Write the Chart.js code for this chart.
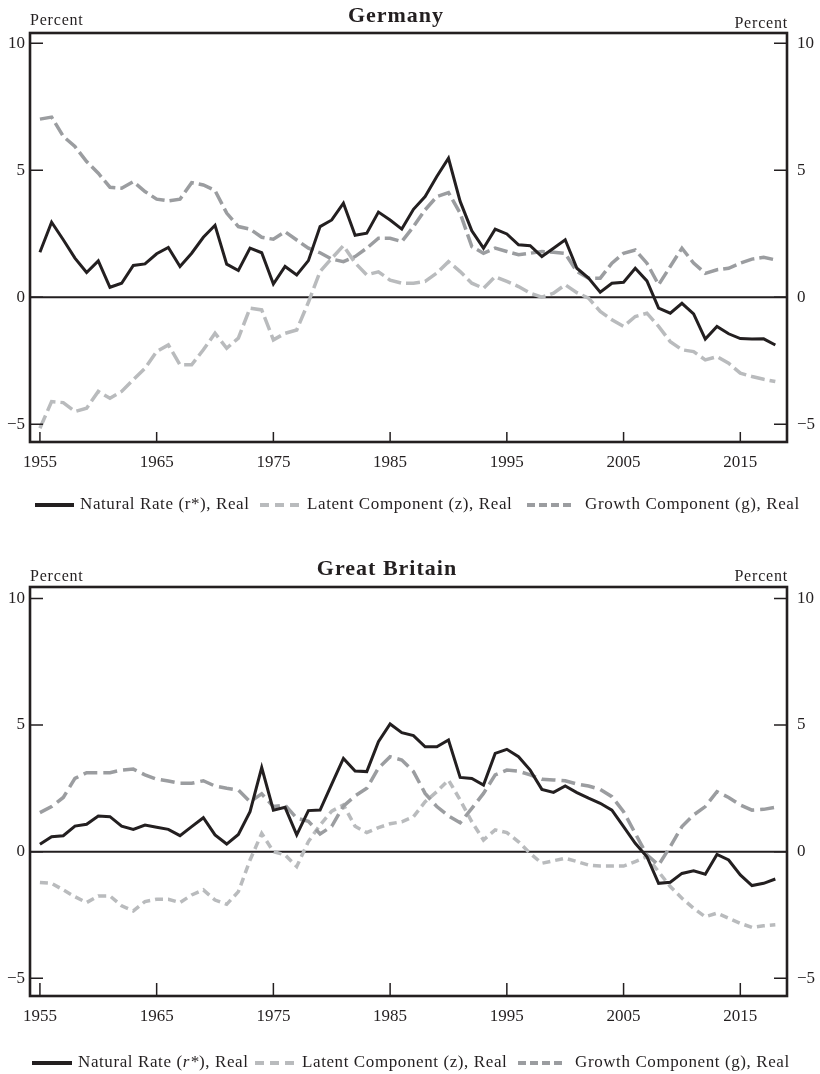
<!DOCTYPE html>
<html>
<head>
<meta charset="utf-8">
<title>Natural rate of interest: Germany and Great Britain</title>
<script src="https://cdn.jsdelivr.net/npm/chart.js@4.4.1/dist/chart.umd.min.js"></script>
<style>
  html, body { margin: 0; padding: 0; background: #fff; }
  .panel { position: absolute; left: 0; width: 820px; }
  #germany-box { top: 0; height: 530px; }
  #britain-box { top: 554px; height: 520px; }
</style>
</head>
<body>
<div class="panel" id="germany-box"><canvas id="germany-chart"></canvas></div>
<div class="panel" id="britain-box"><canvas id="britain-chart"></canvas></div>
<script>
// Years on the x axis
const years = [1955, 1956, 1957, 1958, 1959, 1960, 1961, 1962, 1963, 1964,
    1965, 1966, 1967, 1968, 1969, 1970, 1971, 1972, 1973, 1974,
    1975, 1976, 1977, 1978, 1979, 1980, 1981, 1982, 1983, 1984,
    1985, 1986, 1987, 1988, 1989, 1990, 1991, 1992, 1993, 1994,
    1995, 1996, 1997, 1998, 1999, 2000, 2001, 2002, 2003, 2004,
    2005, 2006, 2007, 2008, 2009, 2010, 2011, 2012, 2013, 2014,
    2015, 2016, 2017, 2018];
const xTickYears = [1955, 1965, 1975, 1985, 1995, 2005, 2015];
const yTickValues = [-5, 0, 5, 10];

// Germany (percent)
const deNatural = [1.77, 2.95, 2.26, 1.54, 0.97, 1.43, 0.39, 0.55, 1.25, 1.31,
    1.71, 1.96, 1.21, 1.73, 2.36, 2.83, 1.30, 1.05, 1.93, 1.75,
    0.52, 1.21, 0.88, 1.44, 2.78, 3.04, 3.70, 2.44, 2.52, 3.35,
    3.04, 2.68, 3.46, 3.96, 4.75, 5.47, 3.77, 2.61, 1.93, 2.68,
    2.49, 2.06, 2.03, 1.60, 1.93, 2.26, 1.14, 0.75, 0.20, 0.55,
    0.59, 1.14, 0.64, -0.43, -0.63, -0.24, -0.66, -1.65, -1.15, -1.44,
    -1.63, -1.65, -1.64, -1.88];
const deLatent = [-5.16, -4.11, -4.15, -4.50, -4.37, -3.71, -3.98, -3.71, -3.25, -2.80,
    -2.14, -1.88, -2.66, -2.66, -2.07, -1.42, -2.01, -1.61, -0.43, -0.50,
    -1.68, -1.42, -1.29, -0.20, 1.01, 1.53, 2.03, 1.35, 0.88, 1.00,
    0.67, 0.55, 0.55, 0.62, 0.95, 1.40, 1.01, 0.55, 0.35, 0.81,
    0.62, 0.42, 0.16, 0.00, 0.16, 0.49, 0.18, -0.04, -0.56, -0.89,
    -1.15, -0.76, -0.63, -1.15, -1.75, -2.07, -2.14, -2.47, -2.34, -2.60,
    -2.99, -3.12, -3.23, -3.32];
const deGrowth = [7.01, 7.09, 6.33, 5.93, 5.34, 4.88, 4.33, 4.29, 4.55, 4.16,
    3.86, 3.79, 3.86, 4.51, 4.42, 4.20, 3.31, 2.78, 2.68, 2.36,
    2.28, 2.58, 2.25, 1.93, 1.75, 1.50, 1.40, 1.60, 1.93, 2.32,
    2.32, 2.19, 2.78, 3.44, 3.96, 4.12, 3.31, 1.99, 1.73, 1.93,
    1.80, 1.67, 1.73, 1.80, 1.77, 1.72, 1.01, 0.75, 0.75, 1.34,
    1.73, 1.86, 1.34, 0.49, 1.21, 1.93, 1.34, 0.94, 1.08, 1.14,
    1.34, 1.50, 1.57, 1.47];

// Great Britain (percent)
const gbNatural = [0.29, 0.59, 0.63, 1.01, 1.08, 1.41, 1.38, 1.01, 0.88, 1.05,
    0.96, 0.88, 0.63, 0.99, 1.34, 0.66, 0.30, 0.68, 1.58, 3.32,
    1.64, 1.75, 0.66, 1.62, 1.64, 2.67, 3.68, 3.18, 3.16, 4.34,
    5.04, 4.70, 4.58, 4.14, 4.14, 4.41, 2.93, 2.89, 2.63, 3.88,
    4.04, 3.75, 3.22, 2.46, 2.34, 2.59, 2.33, 2.11, 1.91, 1.64,
    0.99, 0.33, -0.20, -1.25, -1.21, -0.86, -0.76, -0.89, -0.11, -0.33,
    -0.92, -1.34, -1.25, -1.08];
const gbLatent = [-1.22, -1.25, -1.51, -1.78, -2.01, -1.75, -1.75, -2.14, -2.34, -1.97,
    -1.88, -1.88, -2.01, -1.71, -1.51, -1.91, -2.08, -1.58, -0.33, 0.72,
    0.00, -0.13, -0.59, 0.40, 1.05, 1.60, 1.85, 1.00, 0.75, 0.95,
    1.10, 1.18, 1.38, 1.97, 2.37, 2.83, 2.04, 1.18, 0.46, 0.86,
    0.75, 0.39, -0.07, -0.46, -0.36, -0.26, -0.39, -0.53, -0.57, -0.57,
    -0.57, -0.39, -0.20, -0.79, -1.38, -1.84, -2.24, -2.57, -2.43, -2.63,
    -2.83, -2.99, -2.93, -2.89];
const gbGrowth = [1.54, 1.78, 2.14, 2.89, 3.12, 3.12, 3.12, 3.22, 3.26, 3.03,
    2.86, 2.79, 2.70, 2.70, 2.80, 2.59, 2.50, 2.43, 1.97, 2.28,
    1.78, 1.84, 1.32, 1.20, 0.70, 1.00, 1.80, 2.20, 2.50, 3.30,
    3.75, 3.62, 3.16, 2.30, 1.78, 1.41, 1.14, 1.71, 2.30, 3.03,
    3.22, 3.18, 3.03, 2.86, 2.83, 2.80, 2.67, 2.59, 2.46, 2.17,
    1.58, 0.72, -0.13, -0.53, 0.20, 0.99, 1.45, 1.78, 2.37, 2.14,
    1.84, 1.64, 1.67, 1.75];

const INK = '#231f20';
const GROWTH_GREY = '#9b9da0';
const LATENT_GREY = '#b9bbbd';
const SERIF = "'Liberation Serif', 'Times New Roman', serif";

Chart.defaults.font.family = SERIF;
Chart.defaults.color = INK;

function toPoints(values) {
    return values.map((v, i) => ({ x: years[i], y: v }));
}

function tickLabel(v) {
    return v < 0 ? '\u2212' + Math.abs(v) : String(v);
}

function setSpacing(ctx, px) {
    if ('letterSpacing' in ctx) ctx.letterSpacing = px + 'px';
}

// Frame, inward ticks, zero line, headings and legend
function panelPlugin(cfg) {
    return {
        id: 'panel',
        beforeDatasetsDraw(chart) {
            const { ctx, chartArea: a, scales: { y } } = chart;
            const y0 = y.getPixelForValue(0);
            ctx.save();
            ctx.strokeStyle = INK;
            ctx.lineWidth = 2;
            ctx.beginPath();
            ctx.moveTo(a.left, y0);
            ctx.lineTo(a.right, y0);
            ctx.stroke();
            ctx.restore();
        },
        afterDatasetsDraw(chart) {
            const { ctx, chartArea: a, scales: { x, y } } = chart;
            ctx.save();
            ctx.strokeStyle = INK;
            ctx.lineWidth = 1.5;
            ctx.beginPath();
            y.ticks.forEach(t => {
                const py = y.getPixelForValue(t.value);
                ctx.moveTo(a.left, py);
                ctx.lineTo(a.left + 13, py);
                ctx.moveTo(a.right, py);
                ctx.lineTo(a.right - 13, py);
            });
            x.ticks.forEach(t => {
                const px = x.getPixelForValue(t.value);
                ctx.moveTo(px, a.bottom);
                ctx.lineTo(px, a.bottom - cfg.xTickLen);
            });
            ctx.stroke();
            ctx.lineWidth = 2.6;
            ctx.strokeRect(a.left, a.top, a.right - a.left, a.bottom - a.top);
            ctx.restore();
        },
        afterDraw(chart) {
            const { ctx, chartArea: a } = chart;
            ctx.save();
            ctx.fillStyle = INK;
            ctx.textBaseline = 'alphabetic';

            // title
            ctx.font = 'bold 22px ' + SERIF;
            setSpacing(ctx, 1);
            ctx.textAlign = 'center';
            ctx.fillText(cfg.title, cfg.titleX, cfg.titleY);

            // unit labels
            ctx.font = '16px ' + SERIF;
            setSpacing(ctx, 0.8);
            ctx.textAlign = 'left';
            ctx.fillText('Percent', a.left, cfg.unitLeftY);
            ctx.textAlign = 'right';
            ctx.fillText('Percent', a.right + 1, cfg.unitRightY);

            // legend
            ctx.textAlign = 'left';
            ctx.textBaseline = 'middle';
            setSpacing(ctx, 0.6);
            chart.data.datasets.forEach((ds, i) => {
                const item = cfg.legend[i];
                ctx.save();
                ctx.strokeStyle = ds.borderColor;
                ctx.lineWidth = 4;
                ctx.setLineDash(item.dash);
                ctx.beginPath();
                ctx.moveTo(item.sx, cfg.legendY);
                ctx.lineTo(item.ex, cfg.legendY);
                ctx.stroke();
                ctx.restore();
                let tx = item.tx;
                item.parts.forEach(([text, italic]) => {
                    ctx.font = (italic ? 'italic ' : '') + '17px ' + SERIF;
                    ctx.fillText(text, tx, cfg.legendY);
                    tx += ctx.measureText(text).width;
                });
            });
            ctx.restore();
        }
    };
}

function drawPanel(canvasId, natural, latent, growth, cfg) {
    const ctx = document.getElementById(canvasId).getContext('2d');
    const yScale = (position, width, padding) => ({
        position: position,
        min: cfg.yMin,
        max: cfg.yMax,
        afterBuildTicks: s => { s.ticks = yTickValues.map(v => ({ value: v })); },
        afterFit: s => { s.width = width; },
        grid: { display: false, drawTicks: false },
        border: { display: false },
        ticks: { padding: padding, font: { size: 17 }, color: INK, callback: tickLabel }
    });

    new Chart(ctx, {
        type: 'line',
        data: {
            datasets: [{
                label: 'Natural Rate (r*), Real',
                data: toPoints(natural),
                borderColor: INK,
                borderWidth: 3,
                order: 0
            }, {
                label: 'Latent Component (z), Real',
                data: toPoints(latent),
                borderColor: LATENT_GREY,
                borderWidth: 3.5,
                borderDash: cfg.latentDash,
                order: 2
            }, {
                label: 'Growth Component (g), Real',
                data: toPoints(growth),
                borderColor: GROWTH_GREY,
                borderWidth: 3.5,
                borderDash: cfg.growthDash,
                order: 1
            }]
        },
        options: {
            responsive: true,
            maintainAspectRatio: false,
            animation: false,
            layout: { padding: { top: cfg.padTop, left: 0, right: 0, bottom: 0 } },
            elements: { point: { radius: 0 }, line: { tension: 0, borderJoinStyle: 'miter' } },
            plugins: {
                legend: { display: false },
                title: { display: false },
                tooltip: { enabled: false }
            },
            scales: {
                x: {
                    type: 'linear',
                    min: 1954.15,
                    max: 2019.0,
                    afterBuildTicks: s => { s.ticks = xTickYears.map(v => ({ value: v })); },
                    afterFit: s => { s.height = cfg.xAxisHeight; },
                    grid: { display: false, drawTicks: false },
                    border: { display: false },
                    ticks: {
                        padding: 10,
                        font: { size: 17 },
                        color: INK,
                        maxRotation: 0,
                        autoSkip: false,
                        callback: v => String(v)
                    }
                },
                y: yScale('left', 30, 5),
                y2: yScale('right', 33, 10)
            }
        },
        plugins: [panelPlugin(cfg)]
    });
}

window.addEventListener('load', () => {
    drawPanel('germany-chart', deNatural, deLatent, deGrowth, {
        title: 'Germany',
        titleX: 396,
        titleY: 22,
        unitLeftY: 25,
        unitRightY: 28,
        padTop: 33,
        xAxisHeight: 88,
        xTickLen: 10,
        yMin: -5.7,
        yMax: 10.4,
        latentDash: [14, 5],
        growthDash: [14, 5],
        legendY: 505,
        legend: [
            { sx: 35, ex: 74, tx: 80, dash: [], parts: [['Natural Rate (r*), Real', false]] },
            { sx: 260, ex: 300, tx: 307, dash: [9, 6], parts: [['Latent Component (z), Real', false]] },
            { sx: 527, ex: 575, tx: 585, dash: [8, 4], parts: [['Growth Component (g), Real', false]] }
        ]
    });

    drawPanel('britain-chart', gbNatural, gbLatent, gbGrowth, {
        title: 'Great Britain',
        titleX: 387,
        titleY: 21,
        unitLeftY: 27,
        unitRightY: 27,
        padTop: 33,
        xAxisHeight: 78,
        xTickLen: 13,
        yMin: -5.7,
        yMax: 10.45,
        latentDash: [8, 5],
        growthDash: [14, 6],
        legendY: 509,
        legend: [
            { sx: 32, ex: 72, tx: 78, dash: [], parts: [['Natural Rate (', false], ['r*', true], ['), Real', false]] },
            { sx: 255, ex: 295, tx: 302, dash: [9, 6], parts: [['Latent Component (z), Real', false]] },
            { sx: 518, ex: 566, tx: 575, dash: [8, 4], parts: [['Growth Component (g), Real', false]] }
        ]
    });
});
</script>
</body>
</html>
